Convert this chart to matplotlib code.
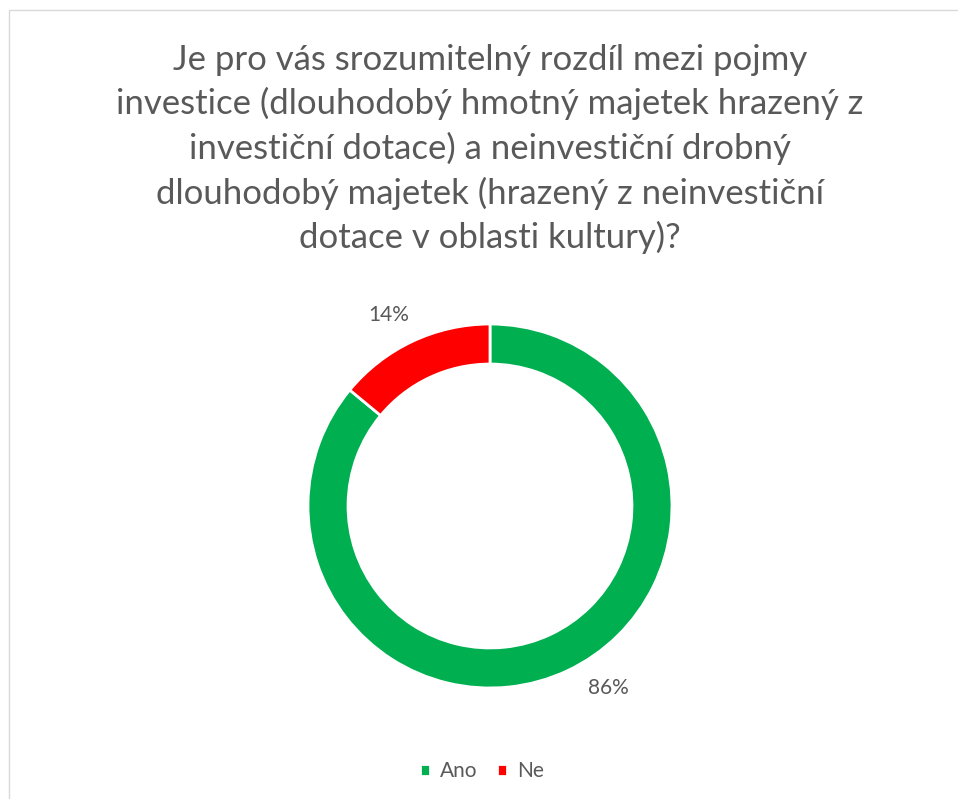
import numpy as np
import matplotlib.pyplot as plt
from matplotlib.patches import Rectangle

# data
labels = ["Ano", "Ne"]
values = [86, 14]
colors = ["#00B050", "#FF0000"]
title = ("Je pro vás srozumitelný rozdíl mezi pojmy\n"
         "investice (dlouhodobý hmotný majetek hrazený z\n"
         "investiční dotace) a neinvestiční drobný\n"
         "dlouhodobý majetek (hrazený z neinvestiční\n"
         "dotace v oblasti kultury)?")

plt.rcParams['font.family'] = ['Lato', 'DejaVu Sans']
text_grey = "#595959"

W, H = 958, 799
fig = plt.figure(figsize=(W / 100, H / 100), dpi=100)

# light chart frame
fig.patches.append(Rectangle((9 / W, -0.01), 1.0, 1 - 10 / H + 0.01,
                             transform=fig.transFigure, fill=False,
                             edgecolor="#D9D9D9", linewidth=1.0))

fig.text(490 / W, 1 - 149 / H, title, ha="center", va="center",
         fontsize=25, color=text_grey, linespacing=1.42)

# donut
r_px = 182
cx, cy = 490, H - 506
side = 2.2 * r_px
ax = fig.add_axes([(cx - side / 2) / W, (cy - side / 2) / H, side / W, side / H])
wedges, texts, autotexts = ax.pie(
    values, colors=colors, startangle=90, counterclock=False, radius=1.0,
    wedgeprops=dict(width=0.22, edgecolor="white", linewidth=2),
    autopct="%d%%", pctdistance=1.2,
    textprops=dict(fontsize=15, color=text_grey))

# outside-end labels placed like Excel's best fit
label_angles = [-57, 118]
for t, a in zip(autotexts, label_angles):
    t.set_position((1.19 * np.cos(np.radians(a)), 1.19 * np.sin(np.radians(a))))

ax.set_xlim(-1.1, 1.1)
ax.set_ylim(-1.1, 1.1)
ax.set_aspect("equal")
ax.axis("off")

fig.legend(wedges, labels, loc="center", bbox_to_anchor=(482 / W, 1 - 771 / H),
           ncol=2, frameon=False, fontsize=15, handlelength=0.5, handleheight=0.5,
           handletextpad=0.5, columnspacing=0.9, labelcolor=text_grey)

fig.savefig("out.png", dpi=100, facecolor="white")
